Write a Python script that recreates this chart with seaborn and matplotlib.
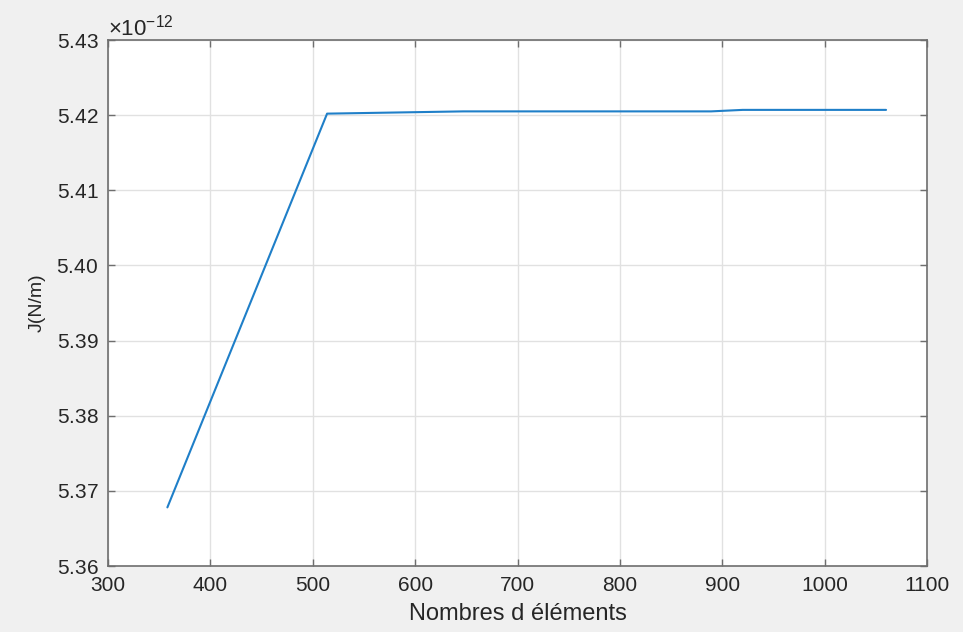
import matplotlib
matplotlib.use('Agg')
import matplotlib.pyplot as plt
import matplotlib.ticker as mticker
import seaborn as sns
import pandas as pd

# Convergence data
nb_elements = [358, 514, 647, 889, 920, 1060]
j_values = [5.3678e-12, 5.4202e-12, 5.4205e-12, 5.4205e-12, 5.4207e-12, 5.4207e-12]

x_ticks = [300, 400, 500, 600, 700, 800, 900, 1000, 1100]
y_ticks = [5.36e-12, 5.37e-12, 5.38e-12, 5.39e-12, 5.40e-12, 5.41e-12, 5.42e-12, 5.43e-12]

sns.set_style("whitegrid")
plt.rcParams['font.family'] = ['Liberation Sans', 'DejaVu Sans']
plt.rcParams['mathtext.fontset'] = 'custom'
plt.rcParams['mathtext.rm'] = 'Liberation Sans'

df = pd.DataFrame({'N': nb_elements, 'J': j_values})

fig = plt.figure(figsize=(9.63, 6.32), dpi=100, facecolor='#f0f0f0')
ax = fig.add_axes([108 / 963, 1 - 566 / 632, (927 - 108) / 963, (566 - 40) / 632])
ax.set_facecolor('white')

sns.lineplot(data=df, x='N', y='J', ax=ax, color='#1f7fc8', linewidth=1.5,
             estimator=None, sort=False)

ax.set_xlim(300, 1100)
ax.set_ylim(5.36e-12, 5.43e-12)
ax.set_xticks(x_ticks)
ax.set_yticks(y_ticks)

fmt = mticker.ScalarFormatter(useMathText=True)
fmt.set_powerlimits((-3, 3))
ax.yaxis.set_major_formatter(fmt)
ax.yaxis.get_offset_text().set_fontsize(16)
ax.yaxis.get_offset_text().set_color('#262626')

ax.grid(True, color='#e1e1e1', linewidth=1.0)
for s in ax.spines.values():
    s.set_color('#6e6e6e')
    s.set_linewidth(1.2)
    s.set_visible(True)

ax.tick_params(direction='in', length=5, width=1, color='#6e6e6e',
               labelsize=15, labelcolor='#262626', top=True, right=True,
               bottom=True, left=True, pad=7)

ax.set_xlabel('Nombres d éléments', fontsize=17, color='#262626', labelpad=6)
ax.set_ylabel('J(N/m)', fontsize=14, color='#262626', labelpad=8)

fig.savefig('out.png', dpi=100, facecolor=fig.get_facecolor())
